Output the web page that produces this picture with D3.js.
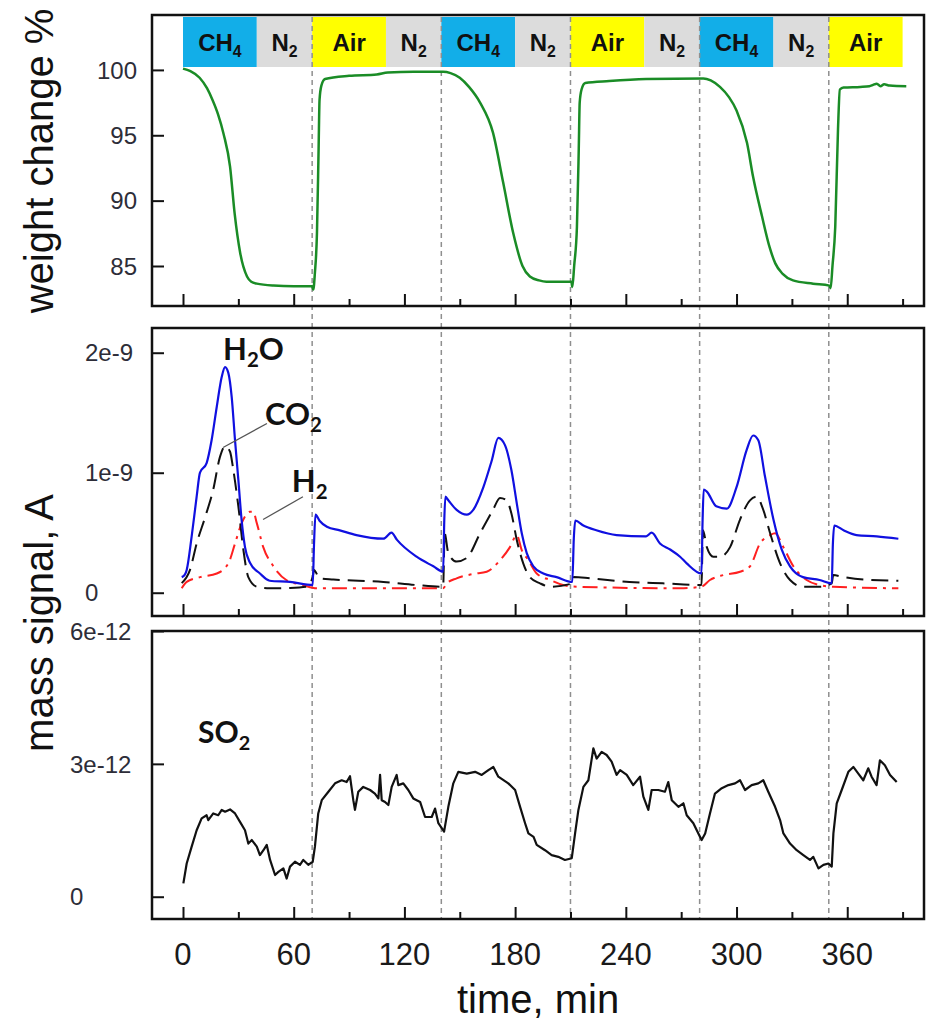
<!DOCTYPE html>
<html>
<head>
<meta charset="utf-8">
<script src="https://cdn.jsdelivr.net/npm/d3@7"></script>
<style>
  body { margin: 0; background: #fff; }
  svg { display: block; }
</style>
</head>
<body>
<script>
// gas sequence in the top strip
var gasNames = ["CH4", "N2", "Air", "N2", "CH4", "N2", "Air", "N2", "CH4", "N2", "Air"]
var gasStart = [0, 40, 70, 110, 140, 180, 210, 250, 280, 320, 350]
var gasEnd   = [40, 70, 110, 140, 180, 210, 250, 280, 320, 350, 390]
var switchTimes = [70, 140, 210, 280, 350]

// tick values
var timeTicks = [0, 60, 120, 180, 240, 300, 360]
var timeMinor = [30, 90, 150, 210, 270, 330, 390]
var weightTicks = [85, 90, 95, 100]
var massTicks = [0, 1, 2]   // units of 1e-9 A
var so2Ticks = [0, 3, 6]    // units of 1e-12 A

// weight change %
var weightT = [0, 4, 9, 13, 16, 19, 22, 25.5, 28, 31, 34.7, 37, 40, 49, 60, 70, 70.6, 71.5, 72.6, 73.5, 74, 75, 77, 90, 105, 111, 125, 141,
  145, 150, 155, 161, 168, 173.5, 179, 184, 188, 193, 197, 210.5, 211, 212, 213.5, 214.5, 215, 216, 218, 231, 251, 282,
  286, 291, 296, 300, 305.7, 309, 313.8, 318, 321, 325, 330.6, 341.5, 350.3, 351, 352, 353.5, 355, 356, 358, 367, 372, 374, 376, 378, 380, 383, 392]
var weightV = [100.1, 99.9, 99.4, 98.6, 97.7, 96.6, 95.1, 92.6, 89.0, 86.0, 84.2, 83.8, 83.65, 83.5, 83.45, 83.45, 83.2, 84.5, 87.5, 94, 97.7, 98.8, 99.3, 99.55, 99.65, 99.8, 99.85, 99.85,
  99.75, 99.4, 98.7, 97.5, 95.2, 91.4, 87.5, 85.0, 84.2, 83.9, 83.8, 83.8, 83.4, 85, 88, 94, 97.5, 98.5, 99.0, 99.15, 99.3, 99.35,
  99.2, 98.7, 97.9, 96.9, 94.4, 91.8, 88.8, 86.4, 85.2, 84.4, 83.9, 83.65, 83.5, 83.3, 85, 88, 95.5, 98.5, 98.65, 98.7, 98.75, 98.85, 98.95, 98.75, 98.9, 98.8, 98.75]

// H2O mass signal (1e-9 A)
var h2oT = [-0.7, 1, 2, 4.7, 7.4, 9.2, 12.8, 15.5, 18.3, 21, 22.8, 24.6, 26.4, 28.2, 30, 31.8, 33.6, 36.3, 41.7, 47, 58, 70.3,
  71, 71.8, 74, 78, 85, 94, 108.6, 113, 116, 126.6, 135.7, 141,
  141.6, 142.2, 143.8, 148.3, 153.8, 157.3, 162.8, 167.3, 170.9, 174.5, 178, 180.9, 183.6, 186.3, 189.9, 195.3, 202.5, 211,
  211.8, 212.6, 217, 224, 235, 251, 254, 258.5, 264, 269.4, 273, 281,
  281.6, 282.2, 284, 289, 294.7, 300, 305.5, 309, 311.8, 315.4, 320, 324.5, 329, 336, 345, 351.6,
  352.2, 353, 358, 365, 376, 387.7]
var h2oV = [0.13, 0.15, 0.19, 0.47, 0.8, 1.0, 1.08, 1.27, 1.55, 1.8, 1.88, 1.83, 1.63, 1.27, 0.94, 0.6, 0.38, 0.25, 0.16, 0.1, 0.09, 0.065,
  0.4, 0.65, 0.6, 0.55, 0.52, 0.48, 0.45, 0.5, 0.44, 0.3, 0.22, 0.175,
  0.6, 0.8, 0.77, 0.69, 0.65, 0.69, 0.88, 1.1, 1.29, 1.23, 1.02, 0.745, 0.495, 0.33, 0.22, 0.16, 0.13, 0.09,
  0.45, 0.6, 0.56, 0.52, 0.48, 0.47, 0.5, 0.41, 0.36, 0.3, 0.245, 0.16,
  0.6, 0.86, 0.84, 0.72, 0.7, 0.88, 1.19, 1.31, 1.27, 0.97, 0.61, 0.36, 0.22, 0.13, 0.106, 0.078,
  0.4, 0.56, 0.52, 0.48, 0.47, 0.45]

// CO2 mass signal (1e-9 A)
var co2T = [-0.7, 3.8, 7.4, 12, 16.4, 20, 22.8, 25.5, 27.3, 30, 32.7, 35.4, 40, 47, 58, 67, 70.3, 71, 74, 81.5, 108.6, 126.6, 141,
  141.8, 143.8, 148.3, 153.8, 161, 168, 171.8, 175.4, 178, 180.9, 184.4, 188, 193.5, 199, 211,
  211.8, 220.6, 242, 260, 281,
  281.8, 283.9, 287.4, 291, 296.5, 301.9, 307.3, 311, 314.5, 318.2, 323.6, 329, 336, 345, 351.6,
  352.4, 358, 372, 387.7]
var co2V = [0.08, 0.19, 0.41, 0.63, 0.86, 1.13, 1.22, 1.175, 1.02, 0.72, 0.36, 0.13, 0.05, 0.037, 0.04, 0.05, 0.13, 0.19, 0.12, 0.11, 0.09, 0.064, 0.05,
  0.495, 0.33, 0.26, 0.29, 0.495, 0.69, 0.79, 0.77, 0.66, 0.44, 0.245, 0.13, 0.078, 0.05, 0.078,
  0.13, 0.12, 0.09, 0.078, 0.064,
  0.52, 0.38, 0.3, 0.3, 0.38, 0.61, 0.77, 0.8, 0.69, 0.495, 0.245, 0.106, 0.05, 0.05, 0.078,
  0.147, 0.13, 0.106, 0.1]

// H2 mass signal (1e-9 A)
var h2T = [-0.7, 2, 9.2, 18.3, 24.6, 28.2, 31.8, 36.3, 38.1, 40, 43.5, 49, 56, 65, 72.5, 90.5, 141,
  143, 148.3, 157.3, 164.6, 171.8, 177.2, 180.9, 183.6, 187.2, 191.7, 199, 206, 213.4, 269.4, 281,
  285.6, 292.8, 301.9, 307.3, 312.7, 318.2, 320.9, 325.4, 330.8, 338, 345, 352.5, 387.7]
var h2V = [0.037, 0.09, 0.13, 0.16, 0.245, 0.41, 0.58, 0.675, 0.675, 0.58, 0.38, 0.22, 0.106, 0.064, 0.037, 0.037, 0.037,
  0.078, 0.12, 0.156, 0.175, 0.27, 0.38, 0.48, 0.355, 0.27, 0.16, 0.106, 0.064, 0.05, 0.037, 0.05,
  0.106, 0.147, 0.175, 0.22, 0.41, 0.48, 0.495, 0.38, 0.22, 0.106, 0.064, 0.05, 0.037]

// SO2 mass signal (1e-12 A)
var so2T = [0.2, 2, 4.7, 7.4, 10.1, 12.8, 13.7, 16.4, 19.1, 21, 22.8, 25.5, 28.2, 30.9, 33.6, 35.4, 37.3, 40, 41.7, 43.6, 45.4, 47.2,
  49.9, 51.7, 54.4, 56.2, 58, 60.7, 63.4, 65.2, 67.9, 70.3, 71.5, 73.3, 75.2, 78.8, 82.4, 86, 88.7, 90.5, 92.3, 93.2, 95, 97.7,
  101.4, 104, 105.9, 106.8, 107.7, 109.5, 111.3, 113.1, 115.8, 116.7, 119.4, 122.1, 124.8, 128.5, 131.2, 134.8, 136.6, 138.4,
  141.5, 143.8, 146.5, 149.2, 153.8, 158.3, 161.9, 165.5, 168.2, 170.9, 176.3, 180, 182.7, 185.4, 187.2, 190, 191.7, 196.2,
  199.8, 203.4, 207, 210.7, 212.5, 214.3, 217, 219.7, 222.4, 224.2, 226.9, 229.6, 232.3, 235, 236.9, 240.5, 244, 247.7, 249.5,
  252.2, 254, 257.6, 261.2, 263, 264.9, 268.5, 271.2, 273, 276.6, 279.3, 281.1, 283, 285.6, 288.3, 292, 295.6, 299.2, 301.9,
  304.6, 308.2, 311.8, 314.5, 317.2, 320.9, 323.6, 325.4, 329, 332.6, 336.2, 339.8, 341.6, 344.4, 347.1, 349.8, 351.6, 352.5,
  354.3, 357, 360.6, 363.3, 366, 368.7, 371.4, 373.2, 375.9, 377.7, 380.4, 383.2, 386.8]
var so2V = [0.30, 0.75, 1.13, 1.5, 1.77, 1.84, 1.73, 1.88, 1.84, 1.96, 1.92, 1.97, 1.88, 1.69, 1.5, 1.2, 1.28, 1.13, 0.94, 1.05, 1.17, 0.83,
  0.49, 0.56, 0.64, 0.41, 0.68, 0.79, 0.72, 0.83, 0.72, 0.79, 1.13, 1.88, 2.18, 2.37, 2.56, 2.63, 2.59, 2.72, 2.18, 1.96, 2.37, 2.48,
  2.41, 2.33, 2.22, 2.75, 2.18, 2.14, 2.07, 2.48, 2.75, 2.52, 2.56, 2.41, 2.22, 2.14, 1.8, 1.8, 1.99, 1.66,
  1.47, 2.03, 2.56, 2.82, 2.78, 2.82, 2.75, 2.86, 2.93, 2.71, 2.56, 2.41, 2.03, 1.66, 1.43, 1.35, 1.17, 1.05,
  0.94, 0.9, 0.83, 0.87, 1.43, 1.96, 2.48, 2.63, 3.35, 3.12, 3.27, 3.2, 3.05, 2.75, 2.86, 2.75, 2.52, 2.71, 2.26,
  1.96, 2.41, 2.41, 2.37, 2.59, 2.18, 2.03, 2.11, 1.84, 1.66, 1.43, 1.28, 1.43, 1.88, 2.33, 2.45, 2.52, 2.56, 2.63,
  2.41, 2.52, 2.56, 2.63, 2.37, 2.03, 1.73, 1.43, 1.2, 1.05, 0.94, 0.83, 0.9, 0.64, 0.72, 0.75, 0.68, 1.43,
  2.11, 2.41, 2.82, 2.93, 2.78, 2.63, 2.9, 2.71, 2.52, 3.08, 2.97, 2.75, 2.59]

var gasColor = { "CH4": "#12aee8", "N2": "#dcdcdc", "Air": "#ffff00" }

var svg = d3.select("body").append("svg")
    .attr("width", 931)
    .attr("height", 1020)

// frames of the three panels
var left = 152, right = 924
var topP = [15, 306], midP = [328, 616], botP = [631, 919]

var x = d3.scaleLinear().domain([-16.8, 401.6]).range([left, right])
var yW = d3.scaleLinear().domain([81.94, 104.2]).range([topP[1], topP[0]])
var yM = d3.scaleLinear().domain([-0.194, 2.206]).range([midP[1], midP[0]])
var yS = d3.scaleLinear().domain([-0.503, 6.0]).range([botP[1], botP[0]])

// helper: chemical formula with subscripts, parts = [[text, isSub], ...]
function chem(sel, parts, size) {
  var shift = size * 0.24
  parts.forEach(function (p, i) {
    var prevSub = i > 0 && parts[i - 1][1]
    sel.append("tspan")
      .attr("font-size", p[1] ? size * 0.66 : size)
      .attr("dy", p[1] ? shift : (prevSub ? -shift : 0))
      .text(p[0])
  })
}
function splitFormula(s) {
  return s.split(/(\d+)/).filter(d => d.length).map(d => [d, /\d/.test(d)])
}

// gas strip
var strip = svg.append("g")
gasNames.forEach(function (g, i) {
  strip.append("rect")
    .attr("x", x(gasStart[i]))
    .attr("y", 17)
    .attr("width", x(gasEnd[i]) - x(gasStart[i]))
    .attr("height", 50)
    .style("fill", gasColor[g])
  var t = strip.append("text")
    .attr("x", x((gasStart[i] + gasEnd[i]) / 2))
    .attr("y", 51)
    .attr("text-anchor", "middle")
    .attr("font-family", "Liberation Sans, Arial, sans-serif")
    .attr("font-weight", "bold")
    .attr("fill", "#111")
  chem(t, splitFormula(g), 24)
})

// dashed switching lines through all panels
svg.append("g").selectAll("line")
  .data(switchTimes)
  .enter()
  .append("line")
    .attr("x1", d => x(d)).attr("x2", d => x(d))
    .attr("y1", 17).attr("y2", botP[1])
    .style("stroke", "#8f8f8f")
    .style("stroke-width", 1.5)
    .style("stroke-dasharray", "5,4")

// axes for each panel (ticks inward)
function ticks(y, p, values, labelFmt, anchor, lx) {
  var g = svg.append("g")
  g.append("g").attr("transform", "translate(0," + p[1] + ")")
    .call(d3.axisBottom(x).tickValues(timeTicks).tickSize(-12).tickFormat(""))
  g.append("g").attr("transform", "translate(0," + p[1] + ")")
    .call(d3.axisBottom(x).tickValues(timeMinor).tickSize(-7).tickFormat(""))
  g.append("g").attr("transform", "translate(" + left + ",0)")
    .call(d3.axisLeft(y).tickValues(values).tickSize(-12).tickFormat(""))
  g.selectAll(".domain").remove()
  g.selectAll(".tick line").style("stroke", "#111").style("stroke-width", 2)
  g.selectAll(".ylab")
    .data(values)
    .enter()
    .append("text")
      .attr("class", "ylab")
      .attr("x", lx)
      .attr("y", d => y(d))
      .attr("dy", "0.36em")
      .attr("text-anchor", anchor)
      .attr("font-family", "Liberation Sans, Arial, sans-serif")
      .attr("font-size", "24px")
      .attr("fill", "#2d2d38")
      .text(labelFmt)
}
ticks(yW, topP, weightTicks, d => d, "end", 137)
ticks(yM, midP, massTicks, d => d === 0 ? "0" : d + "e-9", "start", 85)
ticks(yS, botP, so2Ticks, d => d === 0 ? "0" : d + "e-12", "start", 70)

// x tick labels under the bottom panel
svg.append("g").selectAll("text")
  .data(timeTicks)
  .enter()
  .append("text")
    .attr("x", d => x(d))
    .attr("y", 965)
    .attr("text-anchor", "middle")
    .attr("font-family", "Liberation Sans, Arial, sans-serif")
    .attr("font-size", "31px")
    .attr("fill", "#1a1a1a")
    .text(d => d)

// curves
function drawLine(ts, vs, y, color, width, dash, curve) {
  var line = d3.line()
    .x(d => x(d[0]))
    .y(d => y(d[1]))
    .curve(curve)
  svg.append("path")
    .datum(ts.map((t, i) => [t, vs[i]]))
    .attr("d", line)
    .style("fill", "none")
    .style("stroke", color)
    .style("stroke-width", width)
    .style("stroke-dasharray", dash)
    .style("stroke-linejoin", "round")
}
drawLine(weightT, weightV, yW, "#1a8c26", 2.5, null, d3.curveMonotoneX)
drawLine(h2T, h2V, yM, "#ff2020", 2, "15,6,3,6", d3.curveMonotoneX)
drawLine(co2T, co2V, yM, "#111", 2, "17,8", d3.curveMonotoneX)
drawLine(h2oT, h2oV, yM, "#1010e0", 2.2, null, d3.curveMonotoneX)
drawLine(so2T, so2V, yS, "#111", 2.2, null, d3.curveLinear)

// frames on top
;[topP, midP, botP].forEach(function (p) {
  svg.append("rect")
    .attr("x", left).attr("y", p[0])
    .attr("width", right - left).attr("height", p[1] - p[0])
    .style("fill", "none")
    .style("stroke", "#111")
    .style("stroke-width", 2.5)
})

// species annotations
function note(t, v, y, formula, size) {
  var n = svg.append("text")
    .attr("x", x(t))
    .attr("y", y(v))
    .attr("font-family", "Lato, Open Sans, sans-serif")
    .attr("font-weight", "bold")
    .attr("fill", "#111")
  chem(n, splitFormula(formula), size)
}
note(21.7, 1.94, yM, "H2O", 31)
note(44.4, 1.40, yM, "CO2", 31)
note(59, 0.84, yM, "H2", 31)
note(8.1, 3.47, yS, "SO2", 30)

// leader lines
svg.append("line")
  .attr("x1", x(21.7)).attr("y1", yM(1.21))
  .attr("x2", x(45.5)).attr("y2", yM(1.41))
  .style("stroke", "#555").style("stroke-width", 1.3)
svg.append("line")
  .attr("x1", x(43.4)).attr("y1", yM(0.61))
  .attr("x2", x(65)).attr("y2", yM(0.80))
  .style("stroke", "#555").style("stroke-width", 1.3)

// axis titles
svg.append("text")
  .attr("transform", "translate(53,161) rotate(-90)")
  .attr("text-anchor", "middle")
  .attr("font-family", "Liberation Sans, Arial, sans-serif")
  .attr("font-size", "40px")
  .attr("fill", "#111")
  .text("weight change %")
svg.append("text")
  .attr("transform", "translate(53,623) rotate(-90)")
  .attr("text-anchor", "middle")
  .attr("font-family", "Liberation Sans, Arial, sans-serif")
  .attr("font-size", "40px")
  .attr("fill", "#111")
  .text("mass signal, A")
svg.append("text")
  .attr("x", (left + right) / 2)
  .attr("y", 1013)
  .attr("text-anchor", "middle")
  .attr("font-family", "Liberation Sans, Arial, sans-serif")
  .attr("font-size", "40px")
  .attr("fill", "#111")
  .text("time, min")
</script>
</body>
</html>
